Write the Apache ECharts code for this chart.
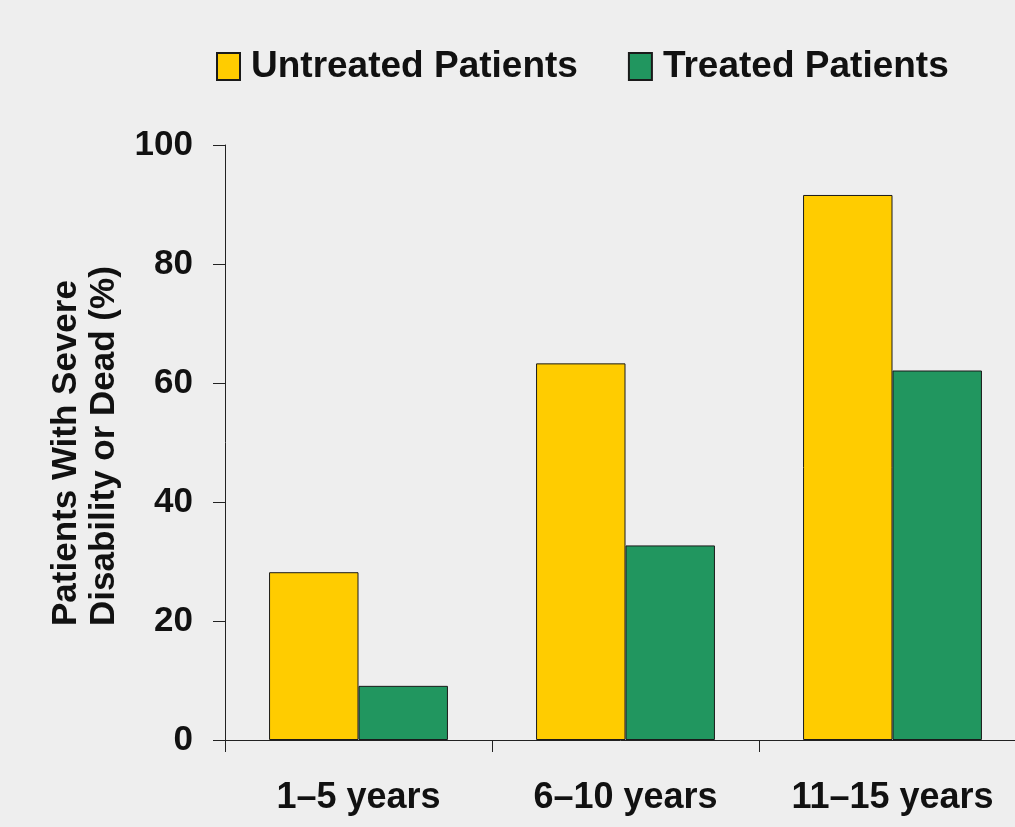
<!DOCTYPE html>
<html>
<head>
<meta charset="utf-8">
<title>Severe Disability or Death by Disease Duration</title>
<script src="https://cdn.jsdelivr.net/npm/echarts@6/dist/echarts.min.js"></script>
<style>
  html, body { margin: 0; padding: 0; background: #eeeeee; }
  #chart { width: 1015px; height: 827px; }
</style>
</head>
<body>
<div id="chart"></div>
<script>
// Disease duration groups
const categories = ['1\u20135 years', '6\u201310 years', '11\u201315 years'];
// Percent of patients with severe disability or dead
const untreatedValues = [28.2, 63.3, 91.6];
const treatedValues = [9.1, 32.7, 62.1];
const seriesNames = ['Untreated Patients', 'Treated Patients'];
const yTitleLines = ['Patients With Severe', 'Disability or Dead (%)'];

const FONT = '"Liberation Sans", Arial, Helvetica, sans-serif';
const chart = echarts.init(document.getElementById('chart'), null, { renderer: 'canvas' });

const barStyle = (color) => ({ color: color, borderColor: '#1a1a1a', borderWidth: 1 });

chart.setOption({
  backgroundColor: '#eeeeee',
  animation: false,
  legend: {
    left: 216,
    top: 48,
    padding: 0,
    itemWidth: 23,
    itemHeight: 27,
    itemGap: 50,
    icon: 'rect',
    textStyle: {
      fontFamily: FONT, fontWeight: 'bold', fontSize: 37, color: '#111111',
      padding: [0, 0, 0, 6]
    },
    data: seriesNames
  },
  // plot area runs slightly past the right edge of the canvas
  grid: {
    left: 225, top: 145, bottom: 87, width: 801,
    containLabel: false, outerBoundsMode: 'none'
  },
  xAxis: {
    type: 'category',
    data: categories,
    axisLine: { show: true, lineStyle: { color: '#222222', width: 1 } },
    axisTick: { show: true, alignWithLabel: false, length: 12, lineStyle: { color: '#222222' } },
    axisLabel: {
      margin: 40, fontFamily: FONT, fontWeight: 'bold', fontSize: 36, color: '#111111'
    }
  },
  yAxis: {
    type: 'value',
    min: 0,
    max: 100,
    interval: 20,
    splitLine: { show: false },
    axisLine: { show: true, lineStyle: { color: '#222222', width: 1 } },
    axisTick: { show: true, inside: false, length: 12, lineStyle: { color: '#222222' } },
    axisLabel: {
      margin: 32, fontFamily: FONT, fontWeight: 'bold', fontSize: 35, color: '#111111'
    }
  },
  graphic: [{
    type: 'text',
    x: 47,
    y: 626,
    rotation: Math.PI / 2,
    style: {
      text: yTitleLines.join('\n'),
      font: 'bold 35px ' + FONT,
      lineHeight: 38,
      fill: '#111111',
      textAlign: 'left',
      textVerticalAlign: 'top'
    }
  }],
  series: [
    {
      name: seriesNames[0],
      type: 'bar',
      data: untreatedValues,
      barGap: '0%',
      barCategoryGap: '33%',
      itemStyle: barStyle('#ffcc00')
    },
    {
      name: seriesNames[1],
      type: 'bar',
      data: treatedValues,
      barGap: '0%',
      barCategoryGap: '33%',
      itemStyle: barStyle('#21965f')
    }
  ]
});
</script>
</body>
</html>
